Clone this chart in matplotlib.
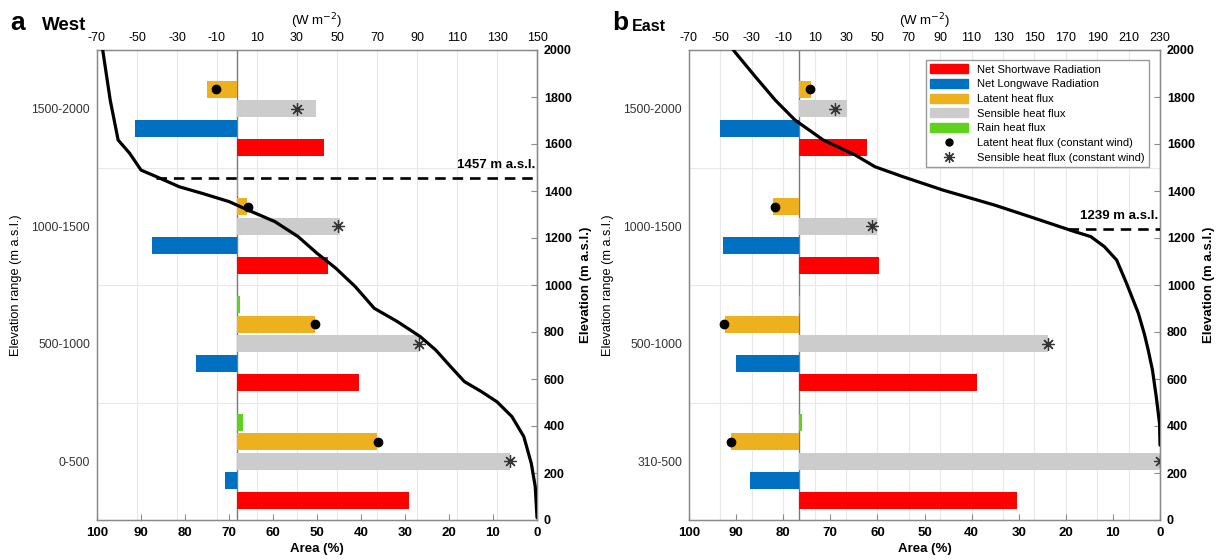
import numpy as np
import matplotlib
matplotlib.use("Agg")
import matplotlib.pyplot as plt
from matplotlib.patches import Patch
from matplotlib.lines import Line2D

plt.rcParams['font.family'] = ['Liberation Sans', 'DejaVu Sans']
plt.rcParams['font.size'] = 9
plt.rcParams['axes.unicode_minus'] = False

# ---------------- data ----------------
centers = [250, 750, 1250, 1750]
west_labels = ['0-500', '500-1000', '1000-1500', '1500-2000']
east_labels = ['310-500', '500-1000', '1000-1500', '1500-2000']

west_sw = [85.8, 61.0, 45.3, 43.4]
west_lw = [-5.9, -20.3, -42.3, -51.0]
west_sens = [136.7, 91.6, 51.4, 39.6]
west_lat = [70.2, 39.2, 5.2, -14.9]
west_rain = [3.0, 1.7, 0.5, 0.2]
west_lat_cw = [70.5, 39.2, 5.5, -10.5]
west_sens_cw = [136.7, 91.0, 50.7, 30.0]

east_sw = [139.0, 113.7, 50.9, 43.3]
east_lw = [-31.0, -40.0, -48.3, -50.4]
east_sens = [230.0, 158.5, 49.6, 30.8]
east_lat = [-43.0, -46.8, -16.3, 7.6]
east_rain = [2.0, 0.5, 0.3, 0.2]
east_lat_cw = [-43.3, -47.6, -15.5, 6.9]
east_sens_cw = [230.0, 158.5, 46.6, 23.0]

west_area = [98.7, 97.0, 95.2, 92.6, 90.0, 86.5, 81.3, 76.1, 70.0, 65.7, 59.6, 54.3,
             50.0, 45.7, 41.3, 37.0, 31.7, 26.5, 23.0, 19.6, 16.5, 12.6, 9.1, 5.7,
             3.0, 1.3, 0.4, 0.0]
west_elev = [2000, 1787, 1617, 1561, 1489, 1461, 1418, 1390, 1355, 1319, 1270, 1206,
             1135, 1071, 993, 901, 844, 780, 723, 652, 589, 546, 503, 440,
             355, 241, 142, 10]

east_area = [90.6, 85.9, 81.7, 77.5, 71.5, 64.7, 60.5, 54.6, 46.1, 35.1, 26.6, 18.1,
             14.7, 11.8, 9.2, 7.1, 4.6, 3.3, 2.5, 1.6, 0.8, 0.1, 0.0]
east_elev = [2000, 1886, 1787, 1702, 1617, 1553, 1503, 1461, 1404, 1340, 1284, 1227,
             1206, 1163, 1106, 1007, 880, 790, 723, 638, 525, 411, 319]

west_ela = 1457
east_ela = 1239
west_ela_start = 86.5
east_ela_start = 19.5

# ---------------- style ----------------
C_SW = '#FF0000'
C_LW = '#0070C0'
C_LAT = '#EDB120'
C_SENS = '#CCCCCC'
C_RAIN = '#5FD21E'
SPINE = '#8a8a8a'
GRID = '#e8e8e8'
offsets = [-166, -83, 0, 83, 166]
bar_h = 74
ast = (8, 2, 0)

fig = plt.figure(figsize=(12.18, 5.6), dpi=100)
W, H = 1218, 560


def panel(x0, x1, wmax, sw, lw, sens, lat, rain, lat_cw, sens_cw, labels,
          area, elev, ela, ela_start, legend=False):
    rect = [x0 / W, 1 - 520 / H, (x1 - x0) / W, 470 / H]
    ax = fig.add_axes(rect)
    ax.set_xlim(-70, wmax)
    ax.set_ylim(0, 2000)
    ticks = np.arange(-70, wmax + 1, 20)
    for t in ticks:
        ax.axvline(t, color=GRID, lw=0.8, zorder=0)
    for yb in (500, 1000, 1500):
        ax.axhline(yb, color=GRID, lw=0.8, zorder=0)
    ax.axvline(0, color='#7a7a7a', lw=1.0, zorder=1)
    ax.set_yticks(centers)
    ax.set_yticklabels(labels)
    ax.tick_params(axis='y', length=0, pad=5, labelsize=8.7, labelcolor='#333333')
    ax.set_ylabel('Elevation range (m a.s.l.)', fontsize=9.2, labelpad=7)
    for s in ax.spines.values():
        s.set_color(SPINE)
        s.set_linewidth(1.0)

    c = np.array(centers)
    ax.barh(c + offsets[0], sw, height=bar_h, color=C_SW, zorder=2)
    ax.barh(c + offsets[1], lw, height=bar_h, color=C_LW, zorder=2)
    ax.barh(c + offsets[2], sens, height=bar_h, color=C_SENS, zorder=2)
    ax.barh(c + offsets[3], lat, height=bar_h, color=C_LAT, zorder=2)
    ax.barh(c + offsets[4], rain, height=bar_h, color=C_RAIN, zorder=2)
    ax.plot(lat_cw, c + offsets[3], 'o', color='k', ms=6, zorder=3, ls='none')
    ax.plot(sens_cw, c + offsets[2], marker=ast, color='#333333', ms=9, mew=0.9,
            ls='none', zorder=3)

    sec = ax.secondary_yaxis('right')
    sec.set_yticks(np.arange(0, 2001, 200))
    sec.tick_params(direction='in', length=4, color=SPINE, pad=5, labelsize=9)
    for lab in sec.get_yticklabels():
        lab.set_fontweight('bold')
    sec.set_ylabel('Elevation (m a.s.l.)', fontweight='bold', fontsize=9.5, labelpad=6)
    sec.spines['right'].set_color(SPINE)

    axa = ax.twiny()
    axa.set_xlim(100, 0)
    axa.set_ylim(0, 2000)
    axa.xaxis.set_ticks_position('bottom')
    axa.xaxis.set_label_position('bottom')
    axa.set_xticks(np.arange(0, 101, 10))
    axa.tick_params(axis='x', direction='in', length=4, color=SPINE, pad=5, labelsize=9.5)
    for lab in axa.get_xticklabels():
        lab.set_fontweight('bold')
    axa.set_xlabel('Area (%)', fontweight='bold', fontsize=9.5, labelpad=3)
    for s in axa.spines.values():
        s.set_color(SPINE)

    # W axis on top (after twiny, which moves ax ticks to the bottom)
    ax.set_xticks(ticks)
    ax.xaxis.tick_top()
    ax.xaxis.set_label_position('top')
    ax.set_xlabel('(W m$^{-2}$)', fontsize=9.5, labelpad=5)
    ax.tick_params(axis='x', which='both', direction='in', length=0, pad=4,
                   labelsize=9, top=True, bottom=False, labeltop=True, labelbottom=False)

    axa.plot(area, elev, color='k', lw=2.3, zorder=5, solid_capstyle='round')
    axa.plot([ela_start, 0], [ela, ela], color='k', lw=1.9, ls=(0, (4, 2.6)), zorder=5)
    axa.text(0.3, ela + 30, f'{ela} m a.s.l.', ha='right', va='bottom',
             fontsize=9.5, fontweight='bold', zorder=6)

    if legend:
        handles = [Patch(color=C_SW, label='Net Shortwave Radiation'),
                   Patch(color=C_LW, label='Net Longwave Radiation'),
                   Patch(color=C_LAT, label='Latent heat flux'),
                   Patch(color=C_SENS, label='Sensible heat flux'),
                   Patch(color=C_RAIN, label='Rain heat flux'),
                   Line2D([], [], marker='o', color='k', ls='none', ms=5,
                          label='Latent heat flux (constant wind)'),
                   Line2D([], [], marker=ast, color='#333333', ls='none', ms=8, mew=0.9,
                          label='Sensible heat flux (constant wind)')]
        leg = axa.legend(handles=handles, loc='upper right', bbox_to_anchor=(0.977, 0.979),
                         borderaxespad=0, fontsize=8, handlelength=3.4, handleheight=0.85,
                         labelspacing=0.4, handletextpad=0.8, borderpad=0.4,
                         fancybox=False, framealpha=1, edgecolor='#999999')
        leg.get_frame().set_linewidth(1.0)
        leg.set_zorder(10)
    return ax, axa


panel(97, 537, 150, west_sw, west_lw, west_sens, west_lat, west_rain,
      west_lat_cw, west_sens_cw, west_labels, west_area, west_elev,
      west_ela, west_ela_start)
panel(689, 1160, 230, east_sw, east_lw, east_sens, east_lat, east_rain,
      east_lat_cw, east_sens_cw, east_labels, east_area, east_elev,
      east_ela, east_ela_start, legend=True)

fig.text(10 / W, 1 - 30 / H, 'a', fontsize=19, fontweight='bold')
fig.text(42 / W, 1 - 30 / H, 'West', fontsize=13.5, fontweight='bold')
fig.text(612 / W, 1 - 30 / H, 'b', fontsize=19, fontweight='bold')
fig.text(632 / W, 1 - 31 / H, 'East', fontsize=11.5, fontweight='bold')

fig.savefig('out.png', dpi=100)
